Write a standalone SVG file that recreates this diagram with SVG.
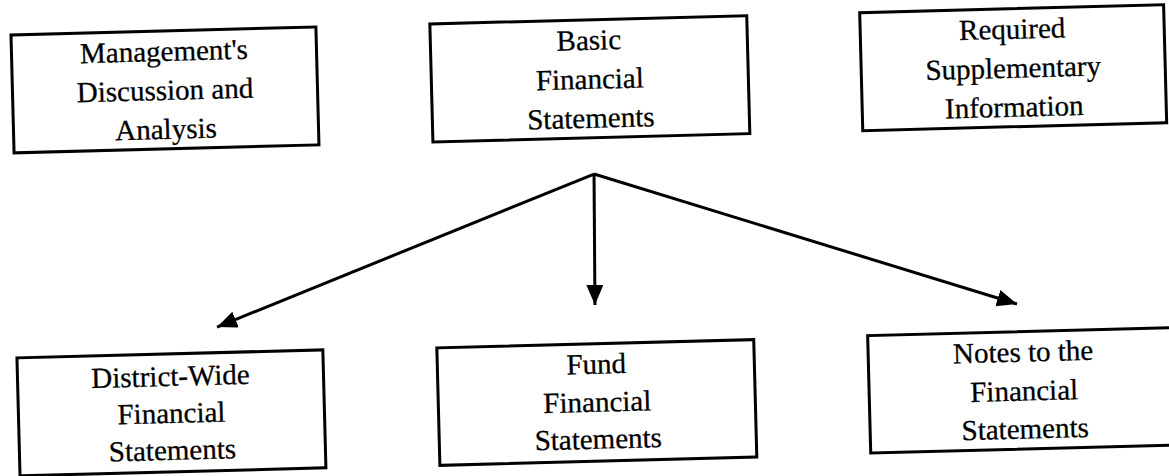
<svg xmlns="http://www.w3.org/2000/svg" width="1169" height="476" viewBox="0 0 1169 476">
  <style>
    .box { fill: #ffffff; stroke: #000000; stroke-width: 3; }
    .lbl { font-family: "Liberation Serif", "Times New Roman", serif; font-size: 29px; fill: #000000; stroke: #000000; stroke-width: 0.3; text-anchor: middle; }
    .conn { stroke: #000000; stroke-width: 3; fill: none; }
  </style>
  <defs>
    <marker id="arrow" markerUnits="userSpaceOnUse" markerWidth="22" markerHeight="18" refX="20" refY="8.5" orient="auto">
      <path d="M0,0 L20,8.5 L0,17 Z" fill="#000000"/>
    </marker>
  </defs>
  <rect width="1169" height="476" fill="#ffffff"/>
  <g transform="rotate(-1.5 584 238)">
    <g id="node-mda">
      <rect class="box" x="16.5" y="20" width="305" height="118"/>
      <text class="lbl" x="169" y="50">Management's</text>
      <text class="lbl" x="169" y="89">Discussion and</text>
      <text class="lbl" x="169" y="128">Analysis</text>
    </g>
    <g id="node-basic">
      <rect class="box" x="435.5" y="20" width="317" height="118"/>
      <text class="lbl" x="594" y="50">Basic</text>
      <text class="lbl" x="594" y="89">Financial</text>
      <text class="lbl" x="594" y="128">Statements</text>
    </g>
    <g id="node-rsi">
      <rect class="box" x="865.5" y="20" width="304" height="118"/>
      <text class="lbl" x="1017.5" y="50">Required</text>
      <text class="lbl" x="1017.5" y="89">Supplementary</text>
      <text class="lbl" x="1017.5" y="128">Information</text>
    </g>
    <g id="node-districtwide">
      <rect class="box" x="14" y="343" width="306" height="118"/>
      <text class="lbl" x="167" y="375">District-Wide</text>
      <text class="lbl" x="167" y="412">Financial</text>
      <text class="lbl" x="167" y="449">Statements</text>
    </g>
    <g id="node-fund">
      <rect class="box" x="434" y="344" width="317" height="117.5"/>
      <text class="lbl" x="593" y="374">Fund</text>
      <text class="lbl" x="593" y="412">Financial</text>
      <text class="lbl" x="593" y="449">Statements</text>
    </g>
    <g id="node-notes">
      <rect class="box" x="865" y="343" width="310" height="117.5"/>
      <text class="lbl" x="1020" y="373">Notes to the</text>
      <text class="lbl" x="1020" y="412">Financial</text>
      <text class="lbl" x="1020" y="450">Statements</text>
    </g>
    <g id="connectors">
      <line class="conn" x1="595.7" y1="174.3" x2="214.8" y2="317.4" marker-end="url(#arrow)"/>
      <line class="conn" x1="595.7" y1="174.3" x2="593.2" y2="305.3" marker-end="url(#arrow)"/>
      <line class="conn" x1="595.7" y1="174.3" x2="1015.1" y2="315.3" marker-end="url(#arrow)"/>
    </g>
  </g>
</svg>
